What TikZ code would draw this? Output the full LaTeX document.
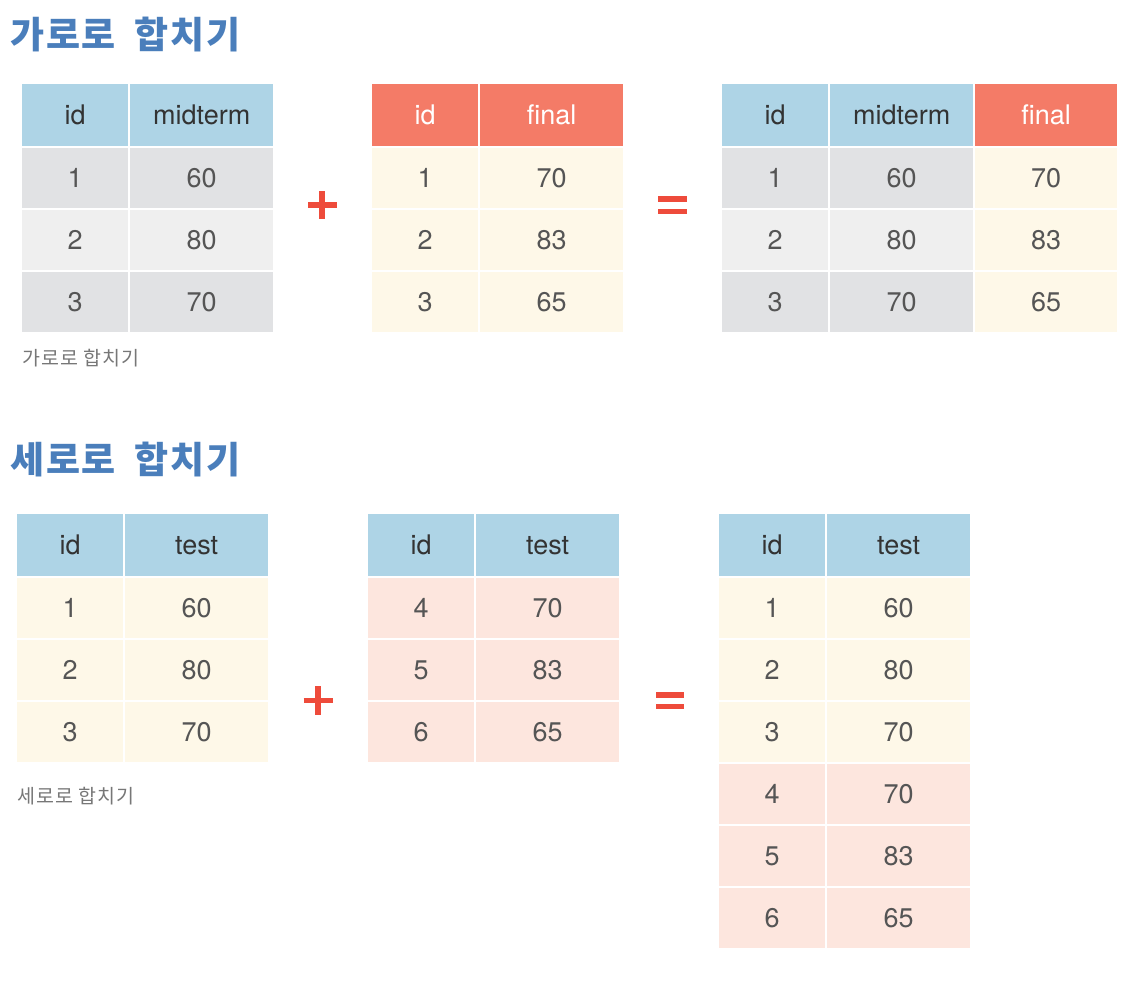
\documentclass[tikz,border=0pt]{standalone}
\usepackage{fontspec}
\setmainfont{TeX Gyre Heros}
\newfontfamily\krfont[LetterSpace=5]{Noto Sans CJK KR}
\usetikzlibrary{matrix}

\definecolor{headblue}{HTML}{AED4E6}
\definecolor{headred}{HTML}{F47B67}
\definecolor{grayA}{HTML}{E1E2E4}
\definecolor{grayB}{HTML}{EFEFEF}
\definecolor{cream}{HTML}{FEF8E8}
\definecolor{blush}{HTML}{FDE6DE}
\definecolor{numgray}{HTML}{555555}
\definecolor{headtext}{HTML}{333333}
\definecolor{signred}{HTML}{EE4B3B}
\definecolor{titleblue}{HTML}{4A7EBB}
\definecolor{capgray}{HTML}{777777}

\tikzset{
  datatable/.style={
    matrix of nodes, anchor=north west, inner sep=0pt,
    row sep=2pt, column sep=2pt,
    nodes={inner sep=0pt, minimum height=60pt, text height=19pt, text depth=0pt,
      font=\fontsize{27}{30}\selectfont, text=numgray},
    column 1/.style={nodes={minimum width=106pt}},
    column 2/.style={nodes={minimum width=143pt}},
    column 3/.style={nodes={minimum width=142pt}},
  },
  hblue/.style={fill=headblue, minimum height=62pt, text=headtext},
  hred/.style={fill=headred, minimum height=62pt, text=white},
  gA/.style={fill=grayA},
  gB/.style={fill=grayB},
  cr/.style={fill=cream},
  bl/.style={fill=blush},
  heading/.style={anchor=west, inner sep=0pt, text=titleblue,
    font=\krfont\bfseries\fontsize{37}{40}\selectfont},
  caption/.style={anchor=west, inner sep=0pt, text=capgray,
    font=\krfont\fontsize{19.5}{22}\selectfont},
  sign/.style={signred, line width=5.5pt},
}

\begin{document}
\begin{tikzpicture}[x=1pt, y=1pt]
        \fill[white] (0,0) rectangle (1146,-998);
        \useasboundingbox (0,0) rectangle (1146,-998);

        % horizontal join
        \node[heading] (titleH) at (10,-35) {가로로\hspace{8pt} 합치기};

        \matrix (mid) [datatable,
          row 1/.style={nodes=hblue}, row 2/.style={nodes=gA},
          row 3/.style={nodes=gB}, row 4/.style={nodes=gA}] at (22,-84) {
          id & midterm \\
          1  & 60      \\
          2  & 80      \\
          3  & 70      \\
        };

        \matrix (fin) [datatable,
          row 1/.style={nodes=hred}, row 2/.style={nodes=cr},
          row 3/.style={nodes=cr}, row 4/.style={nodes=cr}] at (372,-84) {
          id & final \\
          1  & 70    \\
          2  & 83    \\
          3  & 65    \\
        };

        \matrix (hsum) [datatable,
          row 1/.style={nodes=hblue}, row 2/.style={nodes=gA},
          row 3/.style={nodes=gB}, row 4/.style={nodes=gA}] at (722,-84) {
          id & midterm & |[hred]| final \\
          1  & 60      & |[cr]| 70      \\
          2  & 80      & |[cr]| 83      \\
          3  & 70      & |[cr]| 65      \\
        };

        \node[caption] (capH) at (22,-358) {가로로 합치기};

        \draw[sign] (322,-191) -- (322,-219) (308,-205) -- (337,-205);
        \draw[sign] (658,-199) -- (687,-199) (658,-211.5) -- (687,-211.5);

        % vertical join
        \node[heading] (titleV) at (10,-460) {세로로\hspace{8pt} 합치기};

        \matrix (upper) [datatable,
          row 1/.style={nodes=hblue}, row 2/.style={nodes=cr},
          row 3/.style={nodes=cr}, row 4/.style={nodes=cr}] at (17,-514) {
          id & test \\
          1  & 60   \\
          2  & 80   \\
          3  & 70   \\
        };

        \matrix (lower) [datatable,
          row 1/.style={nodes=hblue}, row 2/.style={nodes=bl},
          row 3/.style={nodes=bl}, row 4/.style={nodes=bl}] at (368,-514) {
          id & test \\
          4  & 70   \\
          5  & 83   \\
          6  & 65   \\
        };

        \matrix (vsum) [datatable,
          row 1/.style={nodes=hblue}, row 2/.style={nodes=cr},
          row 3/.style={nodes=cr}, row 4/.style={nodes=cr},
          row 5/.style={nodes=bl}, row 6/.style={nodes=bl},
          row 7/.style={nodes=bl}] at (719,-514) {
          id & test \\
          1  & 60   \\
          2  & 80   \\
          3  & 70   \\
          4  & 70   \\
          5  & 83   \\
          6  & 65   \\
        };

        \node[caption] (capV) at (17,-796) {세로로 합치기};

        \draw[sign] (318,-686) -- (318,-715) (303.5,-700.5) -- (332.5,-700.5);
        \draw[sign] (656,-695) -- (684,-695) (656,-706.5) -- (684,-706.5);
      \end{tikzpicture}
\end{document}
